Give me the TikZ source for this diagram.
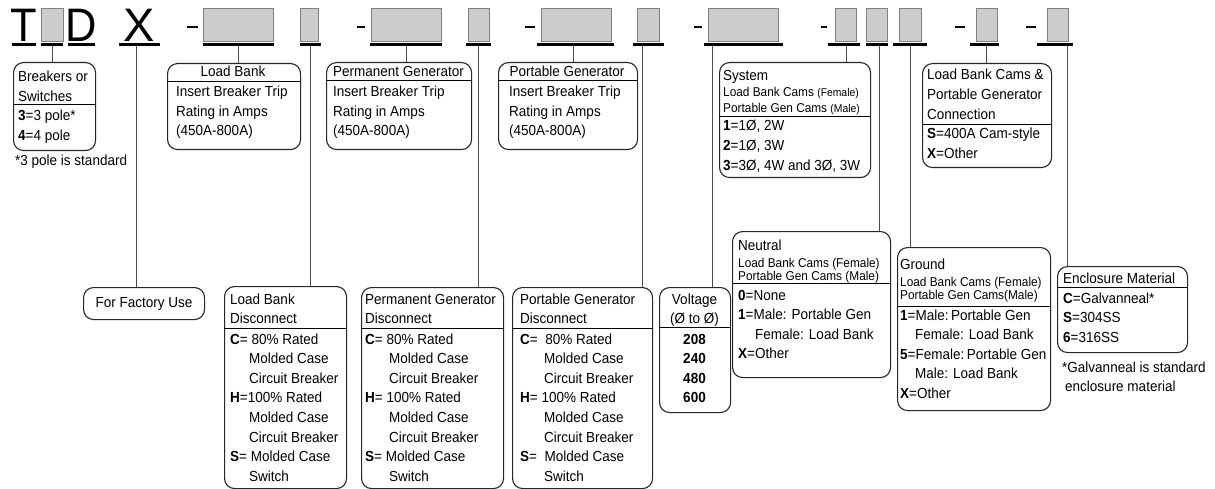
\documentclass[tikz,border=0pt]{standalone}
\usepackage{fontspec}
\setmainfont[FakeStretch=0.925]{Liberation Sans}

\begin{document}
\begin{tikzpicture}[x=1pt, y=-1pt,
    slot/.style={draw=gray, fill=gray!40, line width=.8pt, inner sep=0, minimum height=33, anchor=north west},
    uline/.style={fill=black, inner sep=0, minimum height=2.6, anchor=north west},
    box/.style={draw=black!85, rounded corners=10pt, line width=1.1pt, inner sep=0, anchor=north west},
    lead/.style={draw=black!70, line width=1.1pt},
    sep/.style={draw=black, line width=.9pt},
    txt/.style={font=\fontsize{14.6}{19.6}\selectfont, inner sep=0, align=left, anchor=base west},
    sml/.style={font=\fontsize{12.8}{13.8}\selectfont, inner sep=0, align=left, anchor=base west},
    bigl/.style={font=\fontsize{47}{47}\selectfont, inner sep=0, anchor=base},
    dashbar/.style={line width=2.6pt}]
      \useasboundingbox (0,0) rectangle (1215,489);
      % model code (multi-line texts are placed by their last baseline)
      \node[bigl] (lT) at (24,42) {T};
      \node[slot, minimum width=22] (s1) at (41,8) {};
      \node[bigl] (lD) at (81.5,42) {D};
      \node[bigl] (lX) at (139.5,42) {\scalebox{1.08}[1]{X}};
      \node[slot, minimum width=70] (s2) at (203,8) {};
      \node[slot, minimum width=18] (s3) at (300,8) {};
      \node[slot, minimum width=70] (s4) at (371,8) {};
      \node[slot, minimum width=21] (s5) at (468,8) {};
      \node[slot, minimum width=70] (s6) at (541,8) {};
      \node[slot, minimum width=22] (s7) at (637,8) {};
      \node[slot, minimum width=70] (s8) at (708,8) {};
      \node[slot, minimum width=21] (s9) at (835,8) {};
      \node[slot, minimum width=21] (s10) at (866,8) {};
      \node[slot, minimum width=22] (s11) at (899,8) {};
      \node[slot, minimum width=21] (s12) at (976,8) {};
      \node[slot, minimum width=21] (s13) at (1047,8) {};
      \draw[dashbar] (187,27) -- (198,27);
      \draw[dashbar] (357,27) -- (365,27);
      \draw[dashbar] (525,27) -- (535,27);
      \draw[dashbar] (694,27) -- (702,27);
      \draw[dashbar] (821,27) -- (827,27);
      \draw[dashbar] (955,27) -- (965,27);
      \draw[dashbar] (1026,27) -- (1036,27);
      \node[uline, minimum width=24] (uT) at (12,43) {};
      \node[uline, minimum width=22] (u1) at (41,43) {};
      \node[uline, minimum width=27] (uD) at (68,43) {};
      \node[uline, minimum width=41] (uX) at (119,43) {};
      \node[uline, minimum width=71] (u2) at (203,43) {};
      \node[uline, minimum width=21] (u3) at (300,43) {};
      \node[uline, minimum width=72] (u4) at (370,43) {};
      \node[uline, minimum width=25] (u5) at (466,43) {};
      \node[uline, minimum width=77] (u6) at (537,43) {};
      \node[uline, minimum width=31] (u7) at (633,43) {};
      \node[uline, minimum width=79] (u8) at (704,43) {};
      \node[uline, minimum width=32] (u9) at (828,43) {};
      \node[uline, minimum width=22] (u10) at (866,43) {};
      \node[uline, minimum width=34] (u11) at (893,43) {};
      \node[uline, minimum width=29] (u12) at (970,43) {};
      \node[uline, minimum width=36] (u13) at (1037,43) {};

      % upper boxes
      \node[box, minimum width=82, minimum height=88] (brk) at (13,62) {};
      \draw[sep] (13,104) -- (95,104);
      \node[txt] (brkT) at (18,101.6) {Breakers or\\Switches};
      \node[txt] (brkB) at (18,140.6) {\textbf{3}=3 pole*\\\textbf{4}=4 pole};
      \node[txt] (brkF) at (15,166) {*3 pole is standard};

      \node[box, minimum width=133, minimum height=86] (lb) at (167,63) {};
      \draw[sep] (167,81) -- (300,81);
      \node[txt, anchor=base] (lbT) at (233,77) {Load Bank};
      \node[txt] (lbB) at (176,136) {Insert Breaker Trip\\Rating in Amps\\(450A-800A)};

      \node[box, minimum width=145, minimum height=87] (pg) at (326,62) {};
      \draw[sep] (326,80) -- (471,80);
      \node[txt, anchor=base] (pgT) at (398.5,77) {Permanent Generator};
      \node[txt] (pgB) at (333,136) {Insert Breaker Trip\\Rating in Amps\\(450A-800A)};

      \node[box, minimum width=139, minimum height=87] (ptg) at (498,62) {};
      \draw[sep] (498,80) -- (637,80);
      \node[txt, anchor=base] (ptgT) at (567,77) {Portable Generator};
      \node[txt] (ptgB) at (509,136) {Insert Breaker Trip\\Rating in Amps\\(450A-800A)};

      \node[box, minimum width=151, minimum height=115] (sys) at (719,62) {};
      \draw[sep] (719,116) -- (870,116);
      \node[txt] (sysT) at (723,81) {System};
      \node[sml] (sysS) at (723,112.3) {Load Bank Cams {\fontsize{11.2}{12}\selectfont(Female)}\\[1.5pt]Portable Gen Cams {\fontsize{11.2}{12}\selectfont(Male)}};
      \node[txt] (sysB) at (723,170.2) {\textbf{1}=1Ø, 2W\\\textbf{2}=1Ø, 3W\\\textbf{3}=3Ø, 4W and 3Ø, 3W};

      \node[box, minimum width=129, minimum height=104] (lbc) at (922,63) {};
      \draw[sep] (922,124) -- (1051,124);
      \node[txt] (lbcT) at (927,119.2) {Load Bank Cams \&\\Portable Generator\\Connection};
      \node[txt] (lbcB) at (927,158.6) {\textbf{S}=400A Cam-style\\\textbf{X}=Other};

      % lower boxes
      \node[box, font=\fontsize{14.6}{16}\selectfont, minimum width=121, minimum height=32] (fac) at (83,287) {For Factory Use};

      \node[box, minimum width=122, minimum height=202] (lbd) at (224,286) {};
      \draw[sep] (224,328) -- (346,328);
      \node[txt] (lbdT) at (230,323.6) {Load Bank\\Disconnect};
      \node[txt] (lbdB) at (230,481.2) {\textbf{C}= 80\% Rated\\\hspace*{19pt}Molded Case\\\hspace*{19pt}Circuit Breaker\\\textbf{H}=100\% Rated\\\hspace*{19pt}Molded Case\\\hspace*{19pt}Circuit Breaker\\\textbf{S}= Molded Case\\\hspace*{19pt}Switch};

      \node[box, minimum width=142, minimum height=201] (pgd) at (361,287) {};
      \draw[sep] (361,328) -- (503,328);
      \node[txt] (pgdT) at (365,323.6) {Permanent Generator\\Disconnect};
      \node[txt] (pgdB) at (365,481.2) {\textbf{C}= 80\% Rated\\\hspace*{24pt}Molded Case\\\hspace*{24pt}Circuit Breaker\\\textbf{H}= 100\% Rated\\\hspace*{24pt}Molded Case\\\hspace*{24pt}Circuit Breaker\\\textbf{S}= Molded Case\\\hspace*{24pt}Switch};

      \node[box, minimum width=140, minimum height=201] (ptd) at (512,287) {};
      \draw[sep] (512,328) -- (652,328);
      \node[txt] (ptdT) at (520,323.6) {Portable Generator\\Disconnect};
      \node[txt] (ptdB) at (520,481.2) {\textbf{C}=\ \ 80\% Rated\\\hspace*{24pt}Molded Case\\\hspace*{24pt}Circuit Breaker\\\textbf{H}= 100\% Rated\\\hspace*{24pt}Molded Case\\\hspace*{24pt}Circuit Breaker\\\textbf{S}=\ \ Molded Case\\\hspace*{24pt}Switch};

      \node[box, minimum width=71, minimum height=125] (vol) at (659,287) {};
      \draw[sep] (659,327) -- (730,327);
      \node[txt, anchor=base, align=center] (volT) at (694.5,323.6) {Voltage\\(Ø to Ø)};
      \node[txt, anchor=base, align=center] (volB) at (694.5,402.8) {\textbf{208}\\\textbf{240}\\\textbf{480}\\\textbf{600}};

      \node[box, minimum width=158, minimum height=146] (neu) at (732,231) {};
      \draw[sep] (732,283) -- (890,283);
      \node[txt] (neuT) at (738,250) {Neutral};
      \node[sml] (neuS) at (738,280.8) {Load Bank Cams (Female)\\Portable Gen Cams (Male)};
      \node[txt] (neuB) at (738,358.8) {\textbf{0}=None\\\textbf{1}=Male: Portable Gen\\\hspace*{17pt}Female: Load Bank\\\textbf{X}=Other};

      \node[box, minimum width=153, minimum height=163] (gnd) at (897,247) {};
      \draw[sep] (897,306) -- (1050,306);
      \node[txt] (gndT) at (900,269) {Ground};
      \node[sml] (gndS) at (900,299.8) {Load Bank Cams (Female)\\Portable Gen Cams(Male)};
      \node[txt] (gndB) at (900,398.4) {\textbf{1}=Male:\,Portable Gen\\\hspace*{15pt}Female: Load Bank\\\textbf{5}=Female:\,Portable Gen\\\hspace*{15pt}Male: Load Bank\\\textbf{X}=Other};

      \node[box, minimum width=130, minimum height=86] (enc) at (1057,266) {};
      \draw[sep] (1057,287) -- (1187,287);
      \node[txt] (encT) at (1063,283) {Enclosure Material};
      \node[txt] (encB) at (1063,342.2) {\textbf{C}=Galvanneal*\\\textbf{S}=304SS\\\textbf{6}=316SS};
      \node[txt] (encF) at (1062,391.6) {*Galvanneal is standard\\\hspace*{3pt}enclosure material};

      % leads
      \draw[lead] (u1.south) -- (u1.south |- brk.north);
      \draw[lead] ([xshift=-3.5]uX.south) -- ([xshift=-3.5]uX.south |- fac.north);
      \draw[lead] (u2.south) -- (u2.south |- lb.north);
      \draw[lead] (u3.south) -- (u3.south |- lbd.north);
      \draw[lead] (u4.south) -- (u4.south |- pg.north);
      \draw[lead] (u5.south) -- (u5.south |- pgd.north);
      \draw[lead] ([xshift=-2.5]u6.south) -- ([xshift=-2.5]u6.south |- ptg.north);
      \draw[lead] ([xshift=-6.5]u7.south) -- ([xshift=-6.5]u7.south |- ptd.north);
      \draw[lead] ([xshift=-31.5]u8.south) -- ([xshift=-31.5]u8.south |- vol.north);
      \draw[lead] ([xshift=2]u9.south) -- ([xshift=2]u9.south |- sys.north);
      \draw[lead] ([xshift=2]u10.south) -- ([xshift=2]u10.south |- neu.north);
      \draw[lead] (u11.south) -- (u11.south |- gnd.north);
      \draw[lead] ([xshift=1.5]u12.south) -- ([xshift=1.5]u12.south |- lbc.north);
      \draw[lead] ([xshift=12]u13.south) -- ([xshift=12]u13.south |- enc.north);
    \end{tikzpicture}
\end{document}
